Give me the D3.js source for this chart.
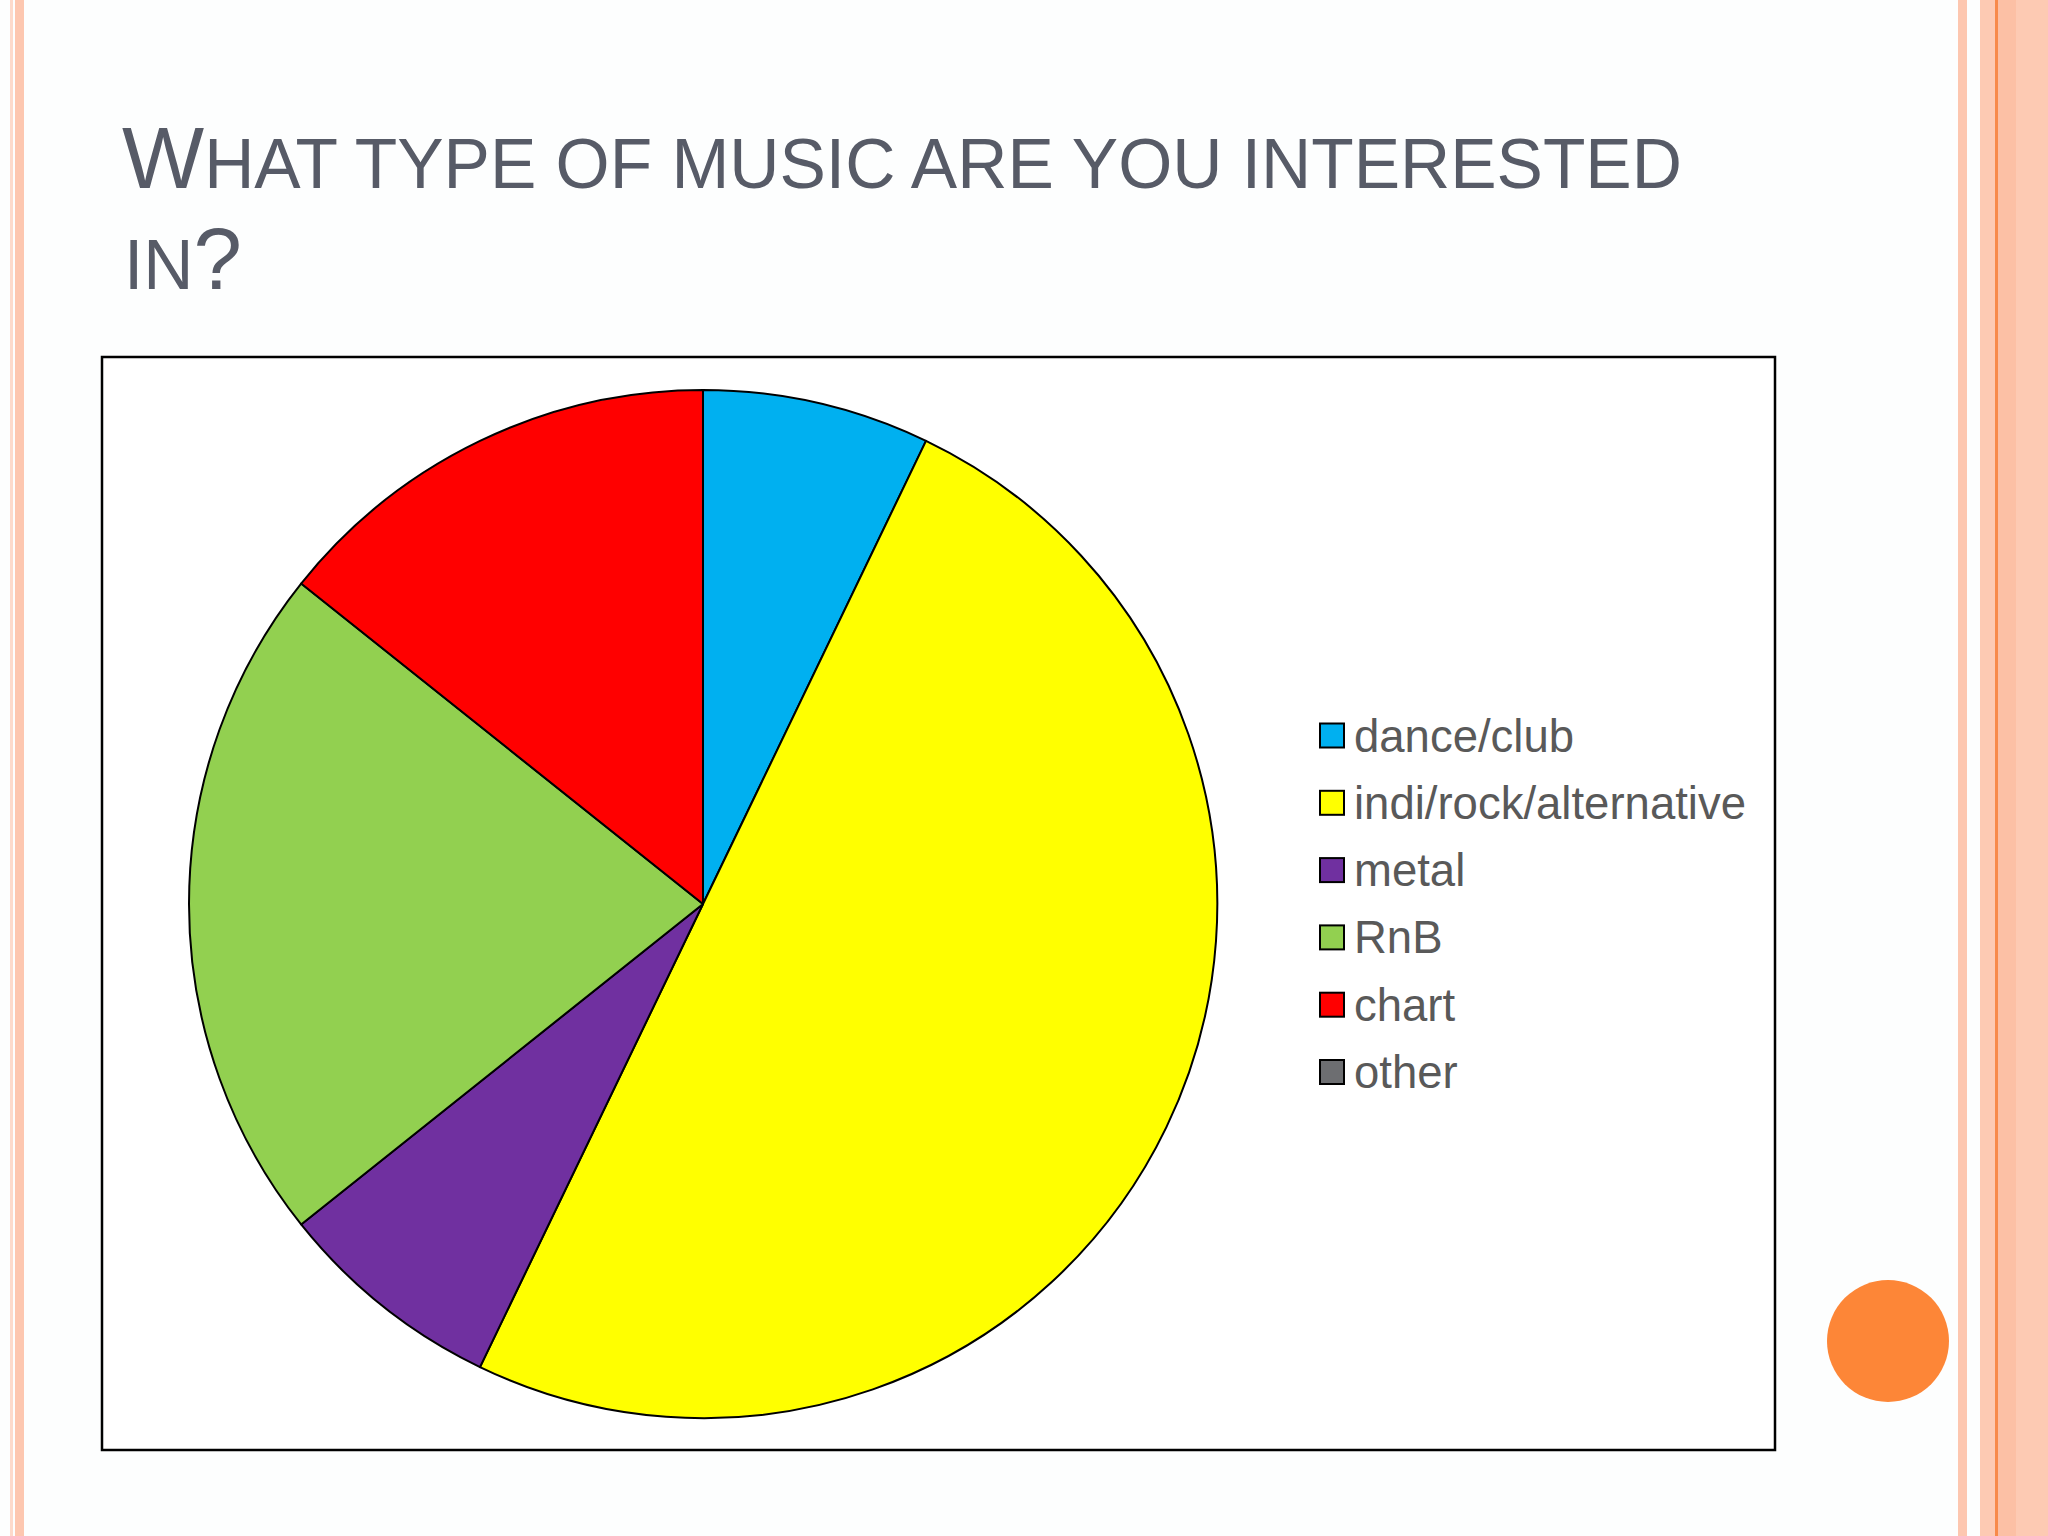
<!DOCTYPE html>
<html lang="en">
<head>
    <meta charset="UTF-8">
    <title>What type of music are you interested in?</title>
    <script src="https://cdn.jsdelivr.net/npm/d3@7"></script>
    <style>
        html, body {
            padding: 0;
            margin: 0;
            width: 2048px;
            height: 1536px;
            overflow: hidden;
            background: #fdfefe;
        }
    </style>
</head>
<body>
<script>
// survey pie chart, one slide

// data
const genres = ['dance/club', 'indi/rock/alternative', 'metal', 'RnB', 'chart', 'other']
const answers = [1, 7, 1, 3, 2, 0]
const colors = ['#00b0f0', '#ffff00', '#7030a0', '#92d050', '#ff0000', '#6d6e71']

const config = {
    w: 2048,
    h: 1536,
    box: {x: 102, y: 357, w: 1673, h: 1093},
    pie: {cx: 703, cy: 904, r: 514},
    legend: {x: 1320, y: 735.5, step: 67.3, size: 24},
    textColor: '#595959',
    titleColor: '#575b67'
}

const svg = d3.select('body')
    .append('svg')
    .attr('width', config.w)
    .attr('height', config.h)

// slide background
svg.append('rect')
    .attr('width', config.w)
    .attr('height', config.h)
    .attr('fill', '#fdfefe')

// side stripes of the slide theme
const stripes = [
    {x: 10, w: 3, c: '#fddacb'},
    {x: 15, w: 9, c: '#fdc7b0'},
    {x: 1958, w: 9, c: '#fdc7b0'},
    {x: 1980, w: 68, c: '#fdcab3'},
    {x: 1998, w: 18, c: '#fcc0a5'},
    {x: 1995, w: 3, c: '#f88a4a'}
]
svg.selectAll('rect.stripe')
    .data(stripes)
    .join('rect')
    .attr('class', 'stripe')
    .attr('x', d => d.x)
    .attr('y', 0)
    .attr('width', d => d.w)
    .attr('height', config.h)
    .attr('fill', d => d.c)

// orange dot bottom right
svg.append('circle')
    .attr('cx', 1888)
    .attr('cy', 1341)
    .attr('r', 61)
    .attr('fill', '#fd8637')

// title, small caps done by hand
const title = svg.append('text')
    .attr('font-family', 'Liberation Sans, Arial, sans-serif')
    .attr('fill', config.titleColor)
const line1 = [['W', 87], ['HAT TYPE OF MUSIC ARE YOU INTERESTED', 69.5]]
const line2 = [['IN', 69.5], ['?', 87]]
line1.forEach((p, i) => {
    const t = title.append('tspan').attr('font-size', p[1]).text(p[0])
    if (i == 0) t.attr('x', 122).attr('y', 188)
})
line2.forEach((p, i) => {
    const t = title.append('tspan').attr('font-size', p[1]).text(p[0])
    if (i == 0) t.attr('x', 124).attr('y', 289)
})

// chart area frame
svg.append('rect')
    .attr('x', config.box.x)
    .attr('y', config.box.y)
    .attr('width', config.box.w)
    .attr('height', config.box.h)
    .attr('fill', '#ffffff')
    .attr('stroke', '#000')
    .attr('stroke-width', 2.5)

// pie
const color = d3.scaleOrdinal().domain(genres).range(colors)
const pie = d3.pie().sort(null).value(d => d.v)
const arc = d3.arc().innerRadius(0).outerRadius(config.pie.r)
const slices = pie(genres.map((g, i) => ({g, v: answers[i]})))

svg.append('g')
    .attr('transform', `translate(${config.pie.cx},${config.pie.cy})`)
    .selectAll('path')
    .data(slices.filter(d => d.data.v > 0))
    .join('path')
    .attr('d', arc)
    .attr('fill', d => color(d.data.g))
    .attr('stroke', '#000')
    .attr('stroke-width', 2)
    .attr('stroke-linejoin', 'round')

// legend
const lg = svg.append('g')
    .selectAll('g')
    .data(genres)
    .join('g')
    .attr('transform', (d, i) => `translate(${config.legend.x},${config.legend.y + i * config.legend.step})`)

lg.append('rect')
    .attr('x', 0)
    .attr('y', -config.legend.size / 2)
    .attr('width', config.legend.size)
    .attr('height', config.legend.size)
    .attr('fill', d => color(d))
    .attr('stroke', '#000')
    .attr('stroke-width', 2)

lg.append('text')
    .attr('x', 34)
    .attr('y', 16)
    .attr('font-family', 'Liberation Sans, Arial, sans-serif')
    .attr('font-size', 45.5)
    .attr('fill', config.textColor)
    .text(d => d)
</script>
</body>
</html>
